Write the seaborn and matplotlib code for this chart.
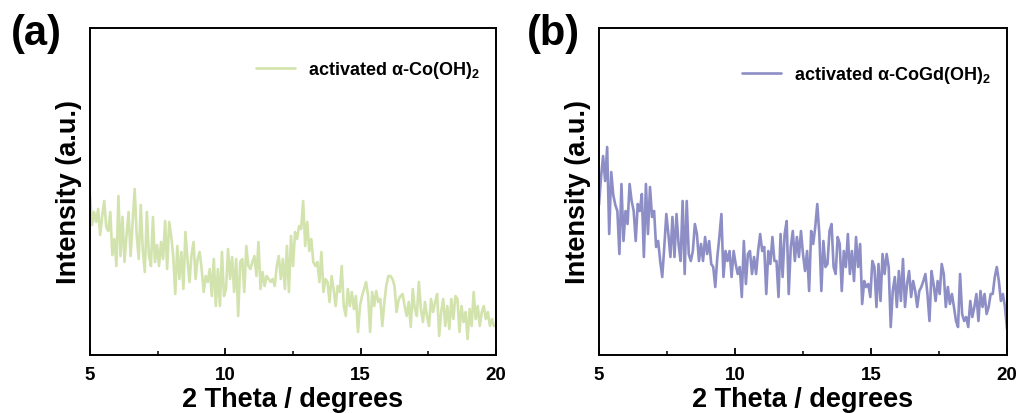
import numpy as np
import pandas as pd
import matplotlib
matplotlib.use("Agg")
import matplotlib.pyplot as plt
import seaborn as sns

# Scan settings (2θ, degrees)
scan_start = 5.0
scan_step = 0.075

# Intensities (a.u.) of activated α-Co(OH)2
intensity_co = [
    160, 130, 143, 133, 146, 120, 139, 154, 128, 124, 143, 100, 116, 89, 159, 99, 138, 93, 120, 143,
    99, 133, 166, 120, 96, 150, 105, 83, 143, 100, 89, 138, 93, 110, 89, 113, 96, 134, 86, 133,
    119, 99, 61, 109, 76, 103, 66, 123, 96, 73, 100, 113, 76, 96, 103, 86, 63, 79, 73, 86,
    59, 96, 49, 86, 49, 103, 59, 66, 106, 76, 98, 63, 96, 39, 93, 96, 63, 109, 89, 86,
    93, 99, 79, 113, 66, 83, 69, 79, 76, 73, 76, 69, 89, 99, 76, 96, 66, 109, 63, 119,
    89, 123, 116, 129, 126, 154, 109, 133, 104, 116, 93, 89, 93, 73, 103, 63, 76, 73, 53, 79,
    66, 49, 69, 63, 89, 49, 39, 66, 49, 63, 46, 59, 23, 49, 59, 66, 73, 59, 23, 63,
    49, 64, 53, 56, 29, 53, 70, 79, 79, 76, 69, 43, 55, 59, 61, 49, 39, 53, 28, 66,
    46, 39, 73, 46, 33, 53, 39, 29, 56, 43, 53, 61, 19, 43, 56, 29, 49, 26, 56, 36,
    59, 56, 23, 49, 33, 43, 16, 46, 29, 63, 36, 49, 29, 43, 49, 36, 43, 29, 36, 29,
    30,
]

# Intensities (a.u.) of activated α-CoGd(OH)2
intensity_cogd = [
    150, 178, 199, 174, 208, 121, 183, 160, 150, 144, 101, 171, 114, 144, 131, 171, 154, 144, 114, 151,
    144, 161, 98, 171, 121, 168, 138, 144, 108, 114, 94, 78, 108, 141, 121, 98, 138, 98, 141, 111,
    94, 154, 81, 154, 101, 94, 104, 131, 121, 94, 111, 94, 118, 101, 114, 91, 88, 68, 98, 118,
    141, 78, 104, 94, 104, 78, 104, 91, 81, 88, 58, 114, 71, 101, 104, 81, 98, 81, 104, 121,
    104, 108, 61, 104, 91, 118, 94, 94, 58, 121, 78, 121, 134, 61, 108, 124, 94, 118, 98, 124,
    101, 84, 104, 64, 124, 111, 128, 151, 121, 64, 114, 88, 91, 124, 131, 88, 81, 118, 111, 64,
    104, 88, 121, 81, 104, 74, 118, 88, 111, 51, 74, 68, 71, 58, 94, 88, 48, 91, 54, 101,
    81, 101, 88, 28, 64, 78, 48, 84, 54, 96, 48, 71, 84, 58, 74, 64, 48, 64, 68, 74,
    81, 61, 34, 84, 71, 54, 74, 61, 91, 81, 48, 68, 51, 61, 48, 34, 28, 81, 41, 34,
    38, 28, 54, 38, 48, 61, 34, 64, 48, 61, 41, 48, 61, 61, 78, 88, 74, 54, 61, 48,
    26,
]

labels = ["activated α-Co(OH)$_\\mathbf{2}$", "activated α-CoGd(OH)$_\\mathbf{2}$"]
colors = ["#d3e3ad", "#8e8ec6"]
panel_tags = ["(a)", "(b)"]
legend_y = [0.955, 0.94]
x_ticks = [5, 10, 15, 20]

sns.set_theme(style="ticks")
plt.rcParams["font.family"] = ["Liberation Sans", "DejaVu Sans"]
plt.rcParams["font.weight"] = "bold"
plt.rcParams["text.color"] = "black"
plt.rcParams["axes.labelcolor"] = "black"
plt.rcParams["xtick.color"] = "black"
plt.rcParams["mathtext.fontset"] = "custom"
plt.rcParams["mathtext.rm"] = "Liberation Sans:bold"
plt.rcParams["mathtext.bf"] = "Liberation Sans:bold"
plt.rcParams["mathtext.it"] = "Liberation Sans:bold"

fig = plt.figure(figsize=(10.21, 4.14), dpi=100)
axes = [
    fig.add_axes([90 / 1021, 58 / 414, 406 / 1021, 327 / 414]),
    fig.add_axes([599 / 1021, 58 / 414, 408 / 1021, 327 / 414]),
]

for ax, values, label, color, ly in zip(axes, [intensity_co, intensity_cogd], labels, colors, legend_y):
    theta = scan_start + scan_step * np.arange(len(values))
    df = pd.DataFrame({"2theta": theta, "intensity": values})
    sns.lineplot(data=df, x="2theta", y="intensity", ax=ax, color=color, linewidth=1.9, label=label)

    ax.set_xlim(5, 20)
    ax.set_ylim(0, 327)
    ax.set_xticks(x_ticks)
    ax.set_xticks([7.5, 12.5, 17.5], minor=True)
    ax.set_yticks([])
    ax.tick_params(axis="x", which="major", direction="in", length=5, width=1.3,
                   labelsize=13.5, pad=8, top=False, labelcolor="black")
    ax.tick_params(axis="x", which="minor", direction="in", length=3, width=1.1, top=False)
    for lbl in ax.get_xticklabels():
        lbl.set_fontweight("bold")
    for s in ax.spines.values():
        s.set_visible(True)
        s.set_linewidth(1.4)
        s.set_color("black")
    ax.set_xlabel("2 Theta / degrees", fontsize=19.5, fontweight="bold", labelpad=2)
    ax.set_ylabel("Intensity (a.u.)", fontsize=19.5, fontweight="bold", labelpad=6)

    leg = ax.legend(loc="upper right", frameon=False, fontsize=13, handlelength=2.2,
                    handletextpad=0.7, bbox_to_anchor=(1.0, ly))
    for t in leg.get_texts():
        t.set_fontweight("bold")
        t.set_color("black")

fig.text(11 / 1021, 1 - 34 / 414, panel_tags[0], fontsize=30, fontweight="bold", va="center", ha="left")
fig.text(527 / 1021, 1 - 34 / 414, panel_tags[1], fontsize=30, fontweight="bold", va="center", ha="left")

fig.savefig("out.png", dpi=100)
